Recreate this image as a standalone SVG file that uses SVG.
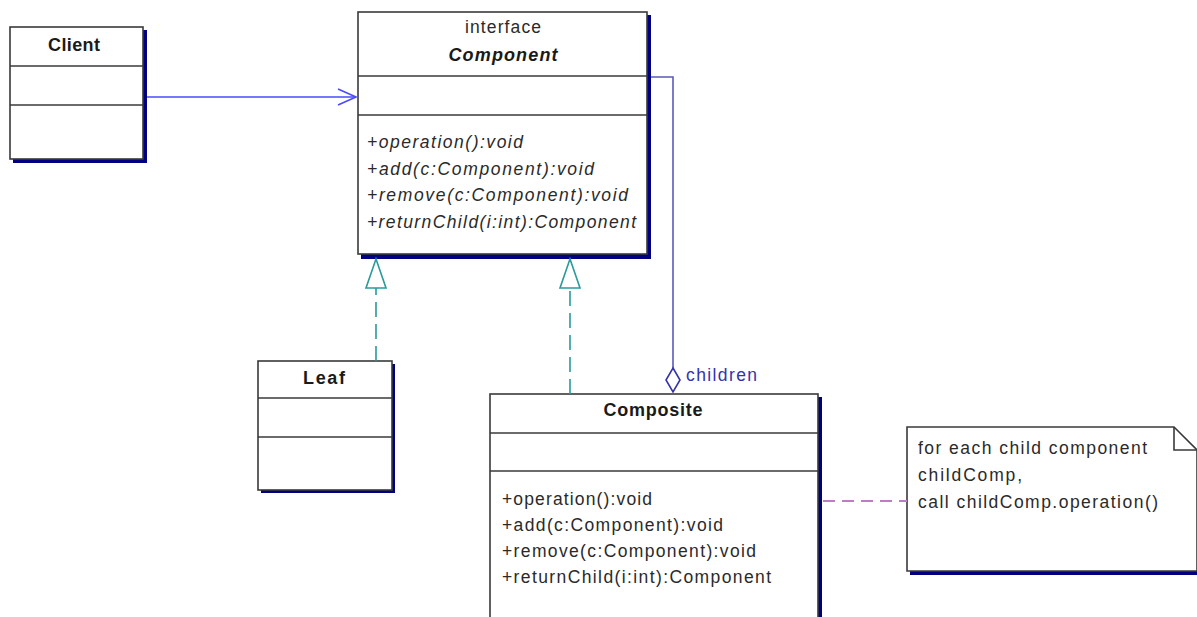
<svg xmlns="http://www.w3.org/2000/svg" width="1197" height="617" viewBox="0 0 1197 617">
  <style>
    .box { fill: #ffffff; stroke: #3a3a3a; stroke-width: 1.6; }
    .shadow { fill: #000080; }
    .div { stroke: #3a3a3a; stroke-width: 1.6; }
    .name { font-family: "Liberation Sans", Arial, sans-serif; font-size: 18px; font-weight: bold; fill: #1a1a1a; text-anchor: middle; }
    .stereo { font-family: "Liberation Sans", Arial, sans-serif; font-size: 17.5px; fill: #2a2a2a; text-anchor: middle; }
    .op { font-family: "Liberation Sans", Arial, sans-serif; font-size: 17.5px; fill: #2a2a2a; }
    .abs { font-style: italic; }
    .note { font-family: "Liberation Sans", Arial, sans-serif; font-size: 17.5px; fill: #2a2a2a; }
    .role { font-family: "Liberation Sans", Arial, sans-serif; font-size: 17.5px; fill: #3333aa; }
    .assoc { stroke: #4a4aff; stroke-width: 1.6; fill: none; }
    .aggr { stroke: #5a5ab8; stroke-width: 1.6; fill: none; }
    .real { stroke: #2a9a9a; stroke-width: 1.6; fill: none; stroke-dasharray: 15 7; }
    .realhead { stroke: #2a9a9a; stroke-width: 1.6; fill: #ffffff; }
    .anchor { stroke: #c07ac8; stroke-width: 2; fill: none; stroke-dasharray: 12 7; }
  </style>

  <!-- Client -->
  <g id="client">
    <rect class="shadow" x="13" y="30" width="134" height="133"/>
    <rect class="box" x="10" y="27" width="133" height="132"/>
    <line class="div" x1="10" y1="66" x2="143" y2="66"/>
    <line class="div" x1="10" y1="105" x2="143" y2="105"/>
    <text class="name" x="74" y="51" textLength="52" lengthAdjust="spacing">Client</text>
  </g>

  <!-- Component interface -->
  <g id="component">
    <rect class="shadow" x="361" y="15" width="290" height="244"/>
    <rect class="box" x="358" y="12" width="289" height="242"/>
    <line class="div" x1="358" y1="76" x2="647" y2="76"/>
    <line class="div" x1="358" y1="115" x2="647" y2="115"/>
    <text class="stereo" x="503" y="33" textLength="76" lengthAdjust="spacing">interface</text>
    <text class="name abs" x="503" y="61" textLength="109" lengthAdjust="spacing">Component</text>
    <text class="op abs" x="367" y="148" textLength="156" lengthAdjust="spacing">+operation():void</text>
    <text class="op abs" x="367" y="175" textLength="227" lengthAdjust="spacing">+add(c:Component):void</text>
    <text class="op abs" x="367" y="201" textLength="261" lengthAdjust="spacing">+remove(c:Component):void</text>
    <text class="op abs" x="367" y="228" textLength="269" lengthAdjust="spacing">+returnChild(i:int):Component</text>
  </g>

  <!-- Leaf -->
  <g id="leaf">
    <rect class="shadow" x="261" y="364" width="134" height="129"/>
    <rect class="box" x="258" y="361" width="134" height="129"/>
    <line class="div" x1="258" y1="398" x2="392" y2="398"/>
    <line class="div" x1="258" y1="437" x2="392" y2="437"/>
    <text class="name" x="324" y="384" textLength="42" lengthAdjust="spacing">Leaf</text>
  </g>

  <!-- Composite -->
  <g id="composite">
    <rect class="shadow" x="493" y="397" width="329" height="250"/>
    <rect class="box" x="490" y="394" width="328" height="250"/>
    <line class="div" x1="490" y1="433" x2="818" y2="433"/>
    <line class="div" x1="490" y1="471" x2="818" y2="471"/>
    <text class="name" x="653" y="416" textLength="99" lengthAdjust="spacing">Composite</text>
    <text class="op" x="502" y="505" textLength="150" lengthAdjust="spacing">+operation():void</text>
    <text class="op" x="502" y="531" textLength="221" lengthAdjust="spacing">+add(c:Component):void</text>
    <text class="op" x="502" y="557" textLength="254" lengthAdjust="spacing">+remove(c:Component):void</text>
    <text class="op" x="502" y="583" textLength="269" lengthAdjust="spacing">+returnChild(i:int):Component</text>
  </g>

  <!-- Note attached to Composite -->
  <g id="note">
    <rect class="shadow" x="910" y="571" width="290" height="4"/>
    <path class="box" d="M907,427 H1174 L1197,450 V571 H907 Z"/>
    <path d="M1174,427 V450 H1197" fill="none" stroke="#3a3a3a" stroke-width="1.6"/>
    <text class="note" x="918" y="454" textLength="229" lengthAdjust="spacing">for each child component</text>
    <text class="note" x="918" y="481" textLength="104" lengthAdjust="spacing">childComp,</text>
    <text class="note" x="918" y="508" textLength="240" lengthAdjust="spacing">call childComp.operation()</text>
  </g>

  <!-- Connectors -->
  <g id="connectors">
    <!-- Client uses Component -->
    <line class="assoc" x1="147" y1="97" x2="356" y2="97"/>
    <polyline class="assoc" points="338,89 356,97 338,105"/>

    <!-- Leaf realizes Component -->
    <line class="real" x1="376" y1="361" x2="376" y2="288"/>
    <polygon class="realhead" points="376,259 366,288 386,288"/>

    <!-- Composite realizes Component -->
    <line class="real" x1="570" y1="394" x2="570" y2="288"/>
    <polygon class="realhead" points="570,259 560,288 580,288"/>

    <!-- Composite aggregates children -->
    <polyline class="aggr" points="651,77 673,77 673,368"/>
    <polygon points="673,368 680,380 673,392 666,380" fill="#ffffff" stroke="#3333aa" stroke-width="1.6"/>
    <text class="role" x="686" y="381" textLength="71" lengthAdjust="spacing">children</text>

    <!-- Note anchor -->
    <line class="anchor" x1="823" y1="501" x2="907" y2="501"/>
  </g>
</svg>
